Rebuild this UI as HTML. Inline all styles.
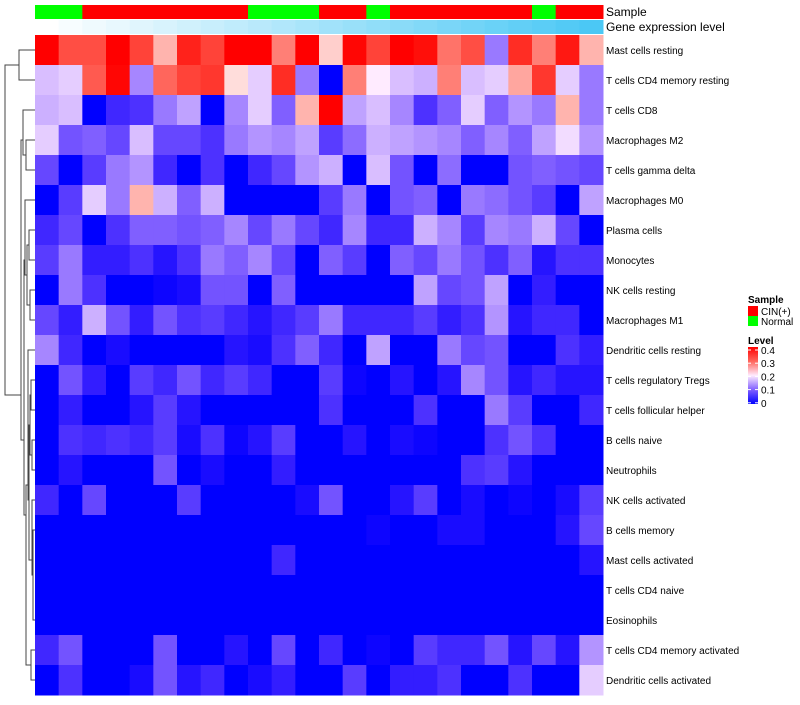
<!DOCTYPE html>
<html><head><meta charset="utf-8"><style>
body{margin:0;background:#fff;font-family:"Liberation Sans",sans-serif;}
svg text{font-family:"Liberation Sans",sans-serif;}
</style></head><body>
<svg id="chart" width="800" height="700"></svg>
<script>
const rowLabels=["Mast cells resting","T cells CD4 memory resting","T cells CD8","Macrophages M2","T cells gamma delta","Macrophages M0","Plasma cells","Monocytes","NK cells resting","Macrophages M1","Dendritic cells resting","T cells regulatory  Tregs","T cells follicular helper","B cells naive","Neutrophils","NK cells activated","B cells memory","Mast cells activated","T cells CD4 naive","Eosinophils","T cells CD4 memory activated","Dendritic cells activated"];
const sampleGroups=["Normal","Normal","CIN","CIN","CIN","CIN","CIN","CIN","CIN","Normal","Normal","Normal","CIN","CIN","Normal","CIN","CIN","CIN","CIN","CIN","CIN","Normal","CIN","CIN"];
const geneLevel=[0,1,2,3,4,5,6,7,8,9,10,11,12,13,14,15,16,17,18,19,20,21,22,23];
const values=[
[0.4,0.32,0.32,0.4,0.33,0.24,0.36,0.33,0.4,0.4,0.28,0.4,0.22,0.39,0.33,0.4,0.38,0.29,0.32,0.12,0.35,0.28,0.37,0.24],
[0.17,0.18,0.31,0.39,0.13,0.3,0.33,0.34,0.21,0.18,0.35,0.12,0,0.28,0.2,0.17,0.16,0.28,0.17,0.18,0.25,0.34,0.18,0.12],
[0.16,0.17,0,0.05,0.06,0.12,0.15,0,0.13,0.18,0.1,0.24,0.4,0.15,0.17,0.13,0.06,0.1,0.18,0.1,0.14,0.12,0.24,0.12],
[0.18,0.09,0.1,0.08,0.17,0.08,0.08,0.06,0.12,0.14,0.13,0.15,0.07,0.11,0.16,0.15,0.14,0.13,0.1,0.13,0.1,0.15,0.19,0.14],
[0.08,0,0.07,0.12,0.14,0.05,0,0.06,0,0.05,0.08,0.14,0.16,0,0.17,0.09,0,0.11,0,0,0.09,0.1,0.09,0.08],
[0,0.07,0.18,0.12,0.24,0.16,0.1,0.16,0,0,0,0,0.07,0.12,0,0.09,0.1,0,0.12,0.11,0.09,0.07,0,0.15],
[0.05,0.08,0,0.06,0.1,0.1,0.09,0.1,0.13,0.08,0.12,0.08,0.05,0.13,0.05,0.05,0.16,0.13,0.07,0.13,0.12,0.16,0.08,0],
[0.07,0.12,0.04,0.04,0.06,0.03,0.06,0.12,0.1,0.13,0.08,0,0.1,0.07,0,0.1,0.08,0.12,0.09,0.06,0.1,0.03,0.06,0.06],
[0,0.12,0.06,0,0,0.01,0.02,0.09,0.09,0,0.1,0,0,0,0,0,0.15,0.08,0.09,0.15,0,0.04,0,0],
[0.08,0.04,0.16,0.09,0.04,0.09,0.06,0.07,0.05,0.03,0.05,0.07,0.12,0.05,0.05,0.05,0.07,0.04,0.06,0.14,0.03,0.05,0.05,0],
[0.13,0.05,0,0.02,0,0,0,0,0.03,0.02,0.06,0.1,0.05,0,0.15,0,0,0.12,0.08,0.09,0,0,0.06,0.04],
[0,0.09,0.04,0,0.07,0.05,0.09,0.05,0.07,0.05,0,0,0.07,0.01,0,0.03,0,0.03,0.13,0.09,0.03,0.05,0.03,0.03],
[0,0.04,0,0,0.03,0.07,0.03,0,0,0,0,0,0.06,0,0,0,0.06,0,0,0.12,0.07,0,0,0.05],
[0,0.06,0.05,0.06,0.05,0.07,0.02,0.06,0.01,0.03,0.07,0,0,0.03,0,0.02,0.01,0,0,0.06,0.09,0.06,0,0],
[0,0.03,0,0,0,0.09,0,0.02,0,0,0.04,0,0,0,0,0,0,0,0.06,0.07,0.03,0,0,0],
[0.05,0,0.08,0,0,0,0.07,0,0,0,0,0.02,0.09,0,0,0.03,0.07,0,0.02,0,0.01,0,0.02,0.07],
[0,0,0,0,0,0,0,0,0,0,0,0,0,0,0.01,0,0,0.02,0.02,0,0,0,0.03,0.08],
[0,0,0,0,0,0,0,0,0,0,0.05,0,0,0,0,0,0,0,0,0,0,0,0,0.03],
[0,0,0,0,0,0,0,0,0,0,0,0,0,0,0,0,0,0,0,0,0,0,0,0],
[0,0,0,0,0,0,0,0,0,0,0,0,0,0,0,0,0,0,0,0,0,0,0,0],
[0.05,0.09,0,0,0,0.09,0,0,0.03,0,0.08,0,0.05,0,0.01,0,0.07,0.05,0.05,0.09,0.03,0.08,0.03,0.14],
[0,0.06,0,0,0.02,0.09,0.03,0.05,0,0.02,0.04,0,0,0.07,0,0.04,0.04,0.06,0,0,0.06,0,0,0.18]
];
const legendTicks=[0.4,0.3,0.2,0.1,0];
const NS="http://www.w3.org/2000/svg";
const svg=document.getElementById('chart');
const X0=35,X1=603,Y0=35,Y1=695;
const nC=values[0].length,nR=values.length;
const cw=(X1-X0)/nC,rh=(Y1-Y0)/nR;
const xPos=i=>X0+i*cw, yPos=j=>Y0+j*rh;
function col(v){
  let t=Math.max(0,Math.min(0.4,v));
  if(t<=0.2){const a=t/0.2;return `rgb(${Math.round(255*a)},${Math.round(235*Math.pow(a,1.3))},255)`;}
  const a=(t-0.2)/0.2;return `rgb(255,${Math.round(235*Math.pow(1-a,1.2))},${Math.round(235*Math.pow(1-a,1.35))})`;
}
function mk(tag,at,p){const e=document.createElementNS(NS,tag);for(const k in at)e.setAttribute(k,at[k]);(p||svg).appendChild(e);return e;}
const g=mk('g',{});


values.forEach((row,j)=>row.forEach((v,i)=>{
  const r=mk('rect',{x:xPos(i),y:yPos(j),width:cw+0.5,height:rh+0.5,fill:col(v)},g);
  
  
}));
sampleGroups.forEach((s,i)=>{
  const r=mk('rect',{x:xPos(i),y:5,width:cw+0.5,height:14,fill:s==="CIN"?"#ff0000":"#00ff00"});
  
  
});
geneLevel.forEach((v,i)=>{
  const a=v/23;
  const r=mk('rect',{x:xPos(i),y:20,width:cw+0.5,height:14,fill:`rgb(${Math.round(255-180*a)},${Math.round(255-55*a)},${Math.round(255-10*a)})`});
  
  
});
let t=mk('text',{x:606,y:16,'font-size':12,fill:'#000'});t.textContent='Sample';


t=mk('text',{x:606,y:31,'font-size':12,fill:'#000'});t.textContent='Gene expression level';


rowLabels.forEach((l,j)=>{
  const e=mk('text',{x:606,y:yPos(j)+rh/2+4,'font-size':10,fill:'#000'});e.textContent=l;
  
  
});
const dg=mk('g',{stroke:'#444','stroke-width':1,fill:'none'});


const cy=j=>yPos(j)+rh/2;
function br(x,ya,yb,xa,xb){mk('path',{d:`M${xa},${ya}H${x}V${yb}H${xb}`},dg);}
br(19,cy(0),cy(1),35,35);
br(26,cy(3),cy(4),35,35);
br(23,cy(2),(cy(3)+cy(4))/2,35,26);
br(29,cy(6),cy(7),35,35);
br(30,cy(8),cy(9),35,35);
br(27,(cy(6)+cy(7))/2,(cy(8)+cy(9))/2,29,30);
br(25,cy(5),(cy(6)+cy(7)+cy(8)+cy(9))/4,35,27);
br(31,cy(11),cy(12),35,35);
br(32,cy(13),cy(14),35,35);
br(30,(cy(11)+cy(12))/2,(cy(13)+cy(14))/2,31,32);
br(33,cy(16),cy(19),35,35);
br(32,cy(15),(cy(16)+cy(19))/2,35,33);
br(29,(cy(11)+cy(14))/2,(cy(15)+cy(19))/2,30,32);
br(28,cy(10),(cy(11)+cy(19))/2,35,29);
br(31,cy(20),cy(21),35,35);
br(26,(cy(10)+cy(19))/2,(cy(20)+cy(21))/2,28,31);
br(24,(cy(5)+cy(9))/2,(cy(10)+cy(21))/2,25,26);
br(21,(cy(2)+cy(4))/2,(cy(5)+cy(21))/2,23,24);
br(5,(cy(0)+cy(1))/2,(cy(2)+cy(21))/2,19,21);
t=mk('text',{x:748,y:303,'font-size':10,'font-weight':'bold',fill:'#000'});t.textContent='Sample';


[["CIN(+)","#ff0000"],["Normal","#00ff00"]].forEach((d,k)=>{
  const r=mk('rect',{x:748,y:306+k*10,width:10,height:10,fill:d[1]});
  
  
  const e=mk('text',{x:761,y:315+k*10,'font-size':10,fill:'#000'});e.textContent=d[0];
  
  
});
t=mk('text',{x:748,y:344,'font-size':10,'font-weight':'bold',fill:'#000'});t.textContent='Level';


const defs=mk('defs',{});
const lg=mk('linearGradient',{id:'lv',x1:0,y1:0,x2:0,y2:1},defs);
[[0,col(0.4)],[0.25,col(0.3)],[0.5,col(0.2)],[0.75,col(0.1)],[1,col(0)]].forEach(s=>mk('stop',{offset:s[0],'stop-color':s[1]},lg));
const lb=mk('rect',{x:748,y:347,width:10,height:57,fill:'url(#lv)'});


legendTicks.forEach((v,k)=>{
  const yy=350+k*13.2;
  mk('line',{x1:748,x2:751,y1:yy,y2:yy,stroke:'#fff'});
  mk('line',{x1:755,x2:758,y1:yy,y2:yy,stroke:'#fff'});
  const e=mk('text',{x:761,y:yy+4,'font-size':10,fill:'#000'});e.textContent=v===0?'0':v.toString();
  
  
});
</script>
</body></html>
